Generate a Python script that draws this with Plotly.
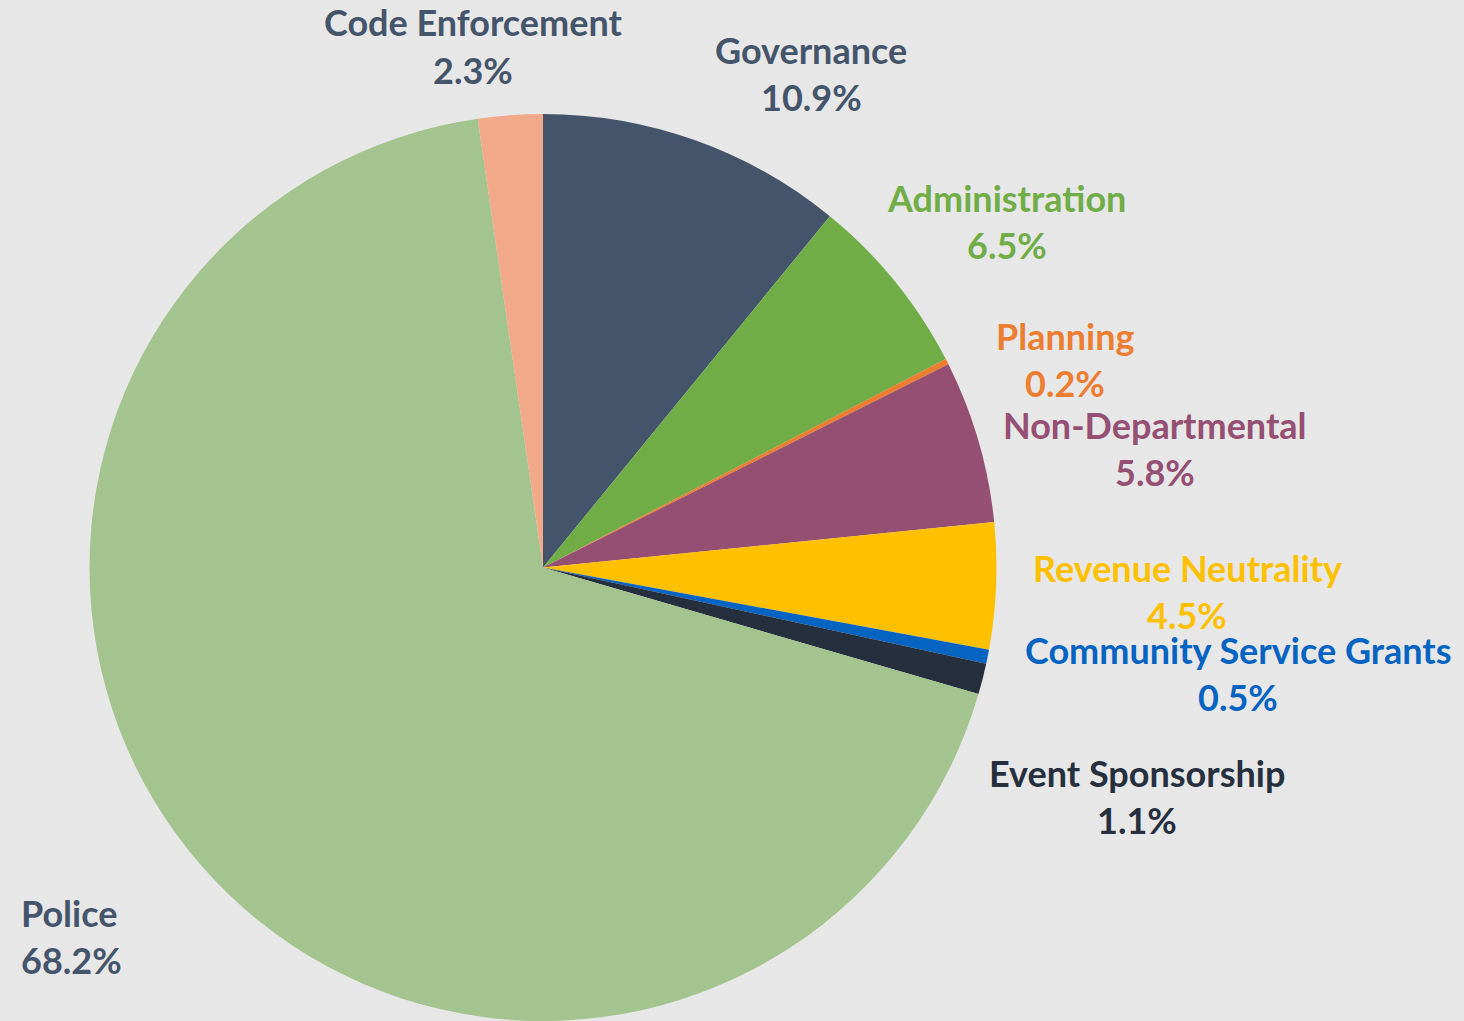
import plotly.graph_objects as go

# Budget share by department, clockwise from 12 o'clock
departments = ["Governance", "Administration", "Planning", "Non-Departmental",
               "Revenue Neutrality", "Community Service Grants", "Event Sponsorship",
               "Police", "Code Enforcement"]
shares = [10.9, 6.5, 0.2, 5.8, 4.5, 0.5, 1.1, 68.2, 2.3]
slice_colors = ["#44546a", "#70ad47", "#ed7d31", "#954f72", "#ffc000",
                "#0563c1", "#262f3e", "#a3c48f", "#f1a98a"]
label_colors = ["#44546a", "#70ad47", "#ed7d31", "#954f72", "#ffc000",
                "#0563c1", "#262f3e", "#44546a", "#44546a"]

W, H = 1464, 1021
BG = "#e7e7e7"

fig = go.Figure(go.Pie(
    labels=departments,
    values=shares,
    sort=False,
    direction="clockwise",
    rotation=0,
    marker=dict(colors=slice_colors, line=dict(width=0)),
    textinfo="none",
    hoverinfo="label+percent",
    showlegend=False,
    domain=dict(x=[89 / W, 997 / W], y=[0, (H - 114) / H]),
))

# Label placement (pixel centres of the name line and the value line)
label_pos = {
    "Governance": (811, 50, 97, "center"),
    "Administration": (1007, 198, 245, "center"),
    "Planning": (1065, 336, 383, "center"),
    "Non-Departmental": (1155, 425, 472, "center"),
    "Revenue Neutrality": (1187, 568, 615, "center"),
    "Community Service Grants": (1238, 650, 697, "center"),
    "Event Sponsorship": (1137, 773, 820, "center"),
    "Police": (19, 913, 960, "left"),
    "Code Enforcement": (473, 22, 70, "center"),
}

FONT = "Lato, 'Open Sans', sans-serif"
FS = 36

for name, val, col in zip(departments, shares, label_colors):
    px, y1, y2, anchor = label_pos[name]
    for txt, py in ((name, y1), (f"{val:.1f}%", y2)):
        fig.add_annotation(
            x=px / W, y=1 - py / H, xref="paper", yref="paper",
            text=f"<b>{txt}</b>", showarrow=False,
            xanchor=anchor, yanchor="middle",
            font=dict(family=FONT, size=FS, color=col),
        )

fig.update_layout(
    width=W, height=H,
    margin=dict(l=0, r=0, t=0, b=0),
    paper_bgcolor=BG, plot_bgcolor=BG,
)

fig.write_html("out.html")
